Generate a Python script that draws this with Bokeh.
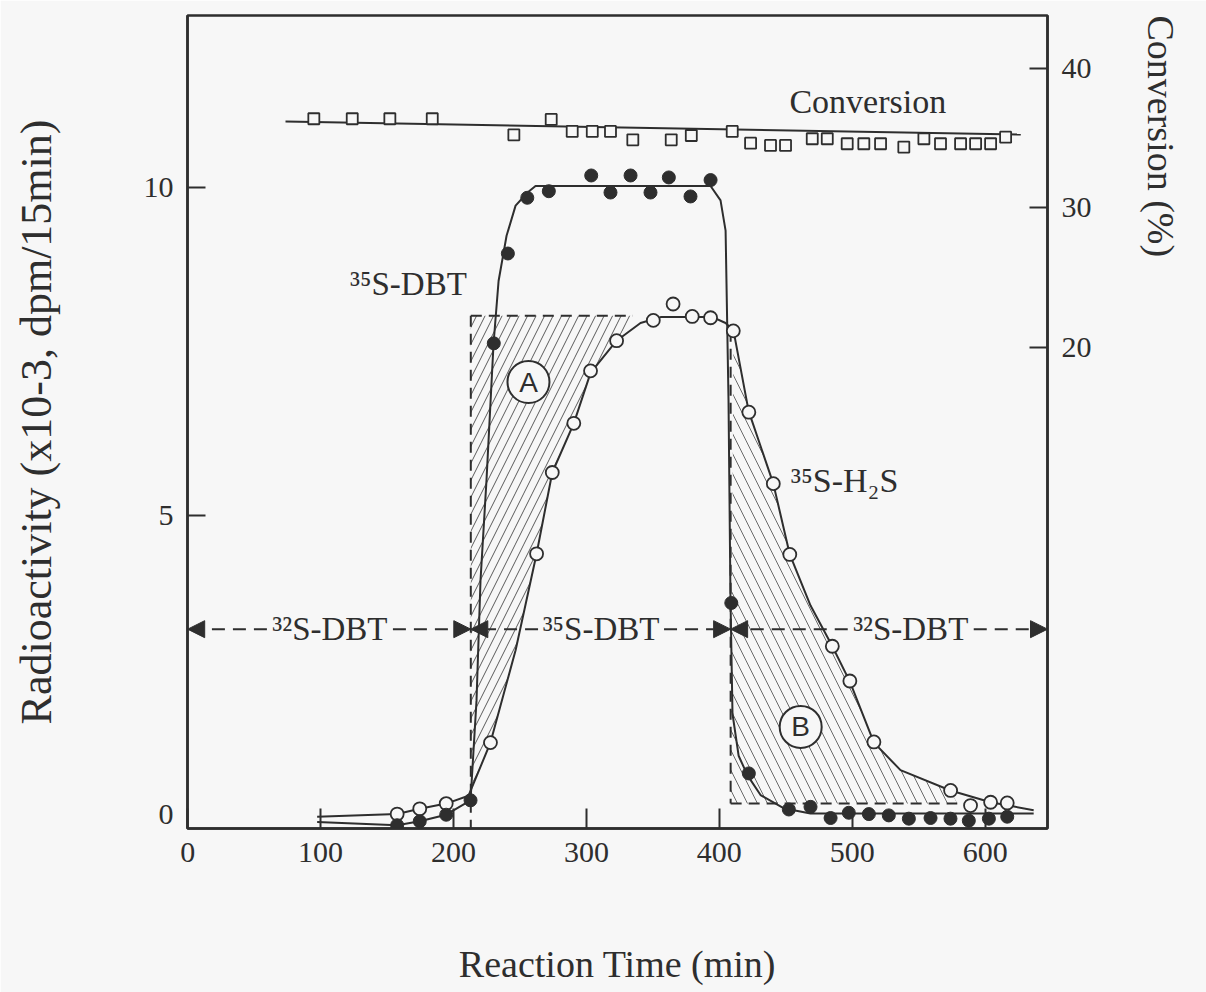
import math
from bokeh.plotting import figure
from bokeh.models import (Range1d, LinearAxis, FixedTicker, Arrow, NormalHead,
                          LabelSet, ColumnDataSource, PrintfTickFormatter)
from bokeh.core.properties import value
from bokeh.embed import file_html
from bokeh.resources import INLINE

# ---------------- data ----------------
# 35S-DBT radioactivity (filled circles)
dbt_time = [157.6, 174.6, 194.5, 212.8, 230.3, 240.9, 255.5, 271.7, 303.6, 318.1, 333.2,
            348.2, 362.0, 378.3, 393.4, 409.0, 422.2, 452.3, 468.6, 483.7, 497.4, 512.5,
            527.5, 542.6, 558.9, 573.9, 587.7, 602.8, 616.6]
dbt_act = [0.28, 0.34, 0.44, 0.66, 7.63, 9.00, 9.85, 9.95, 10.19, 9.93, 10.19,
           9.93, 10.16, 9.87, 10.12, 3.67, 1.07, 0.52, 0.56, 0.39, 0.47, 0.45,
           0.43, 0.38, 0.39, 0.38, 0.35, 0.38, 0.41]

# 35S-H2S radioactivity (open circles)
h2s_time = [157.6, 174.6, 194.5, 227.8, 262.5, 274.3, 290.5, 303.1, 322.7, 350.3, 365.2,
            379.6, 393.4, 410.5, 422.2, 440.6, 453.0, 485.0, 498.2, 516.3, 574.0, 589.0,
            604.1, 616.6]
h2s_act = [0.45, 0.53, 0.61, 1.54, 4.42, 5.66, 6.41, 7.21, 7.67, 7.98, 8.23,
           8.04, 8.02, 7.82, 6.58, 5.49, 4.41, 3.01, 2.48, 1.55, 0.81, 0.58,
           0.63, 0.62]

# Conversion (open squares, right axis)
conv_time = [94.9, 123.8, 152.1, 184.0, 245.4, 273.5, 289.3, 304.4, 318.1, 334.9, 363.8,
             378.9, 409.7, 423.5, 438.5, 449.8, 469.9, 481.2, 496.2, 508.7, 521.3, 538.8,
             553.9, 566.4, 581.5, 592.8, 604.1, 615.4]
conv_pct = [36.38, 36.38, 36.38, 36.38, 35.23, 36.33, 35.47, 35.47, 35.47, 34.87, 34.87,
            35.18, 35.47, 34.63, 34.47, 34.47, 34.95, 34.95, 34.59, 34.59, 34.59, 34.35,
            34.95, 34.59, 34.59, 34.59, 34.59, 35.06]

# hand-drawn trend curves
dbt_curve_time = [97.4, 157.6, 174.6, 194.5, 212.8, 217.3, 220.3, 224.8, 230.1, 233.9,
                  239.9, 246.7, 255.7, 261.7, 393.4, 400.9, 404.7, 406.9, 408.4, 409.9,
                  414.5, 421.2, 431.0, 448.3, 468.6, 636.5]
dbt_curve_act = [0.33, 0.28, 0.34, 0.44, 0.66, 2.18, 4.01, 5.54, 7.62, 8.58,
                 9.27, 9.73, 9.93, 10.03, 10.03, 9.81, 9.35, 6.76, 3.71, 1.98,
                 1.34, 1.04, 0.74, 0.54, 0.46, 0.46]
h2s_curve_time = [97.4, 157.6, 174.6, 194.5, 211.3, 227.8, 246.7, 262.5, 274.3, 290.5,
                  303.1, 322.7, 340.7, 355.8, 394.9, 404.7, 410.7, 422.0, 440.6, 453.0,
                  468.6, 485.0, 498.2, 516.3, 536.3, 573.9, 604.1, 636.5]
h2s_curve_act = [0.41, 0.45, 0.53, 0.61, 0.73, 1.54, 2.95, 4.42, 5.66, 6.41,
                 7.18, 7.67, 7.94, 8.03, 8.03, 7.94, 7.82, 6.60, 5.49, 4.41,
                 3.63, 3.01, 2.47, 1.54, 1.12, 0.81, 0.63, 0.51]
conv_curve_time = [73.6, 626.8]
conv_curve_pct = [36.18, 35.25]

# feed switching times and the reference levels of the shaded areas
switch_times = [213.0, 408.5]
h2s_plateau = 8.05          # top of area A
a_top_end = 335.0
b_floor = 0.61              # floor of area B
b_floor_end = 579.0

# feed phases
phase_labels = ["³²S-DBT", "³⁵S-DBT", "³²S-DBT"]
phase_label_x = [107.0, 311.0, 544.0]
phase_level = 3.27

# axes
x_ticks = [0, 100, 200, 300, 400, 500, 600]
y_ticks = [5, 10]
y_zero_label = 0.45
conv_ticks = [20, 30, 40]
x_lim = (-0.15, 646.9)
y_lim = (0.23, 12.63)
conv_lim = (-14.42, 43.77)

# ---------------- styling ----------------
ink = "#2e2e2e"
bg = "#f7f7f7"
serif = "Liberation Serif"

p = figure(width=1206, height=992, x_range=Range1d(*x_lim), y_range=Range1d(*y_lim),
           output_backend="svg", toolbar_location=None,
           min_border_left=187, min_border_right=159, min_border_top=15, min_border_bottom=164,
           background_fill_color=bg, border_fill_color=bg,
           outline_line_color=ink, outline_line_width=2.5)
p.grid.visible = False
p.extra_y_ranges = {"conv": Range1d(*conv_lim)}


def style(ax):
    ax.axis_line_color = ink
    ax.axis_line_width = 2.5
    ax.major_tick_line_color = ink
    ax.major_tick_line_width = 2
    ax.major_tick_in = 20
    ax.major_tick_out = 0
    ax.minor_tick_line_color = None
    ax.major_label_text_font = serif
    ax.major_label_text_font_size = "30px"
    ax.major_label_text_color = ink
    ax.axis_label_text_font = serif
    ax.axis_label_text_font_size = "38px"
    ax.axis_label_text_font_style = "normal"
    ax.axis_label_text_color = ink


xa = p.xaxis[0]
style(xa)
xa.ticker = FixedTicker(ticks=x_ticks)
xa.major_label_standoff = 14
xa.axis_label = "Reaction Time (min)"
xa.axis_label_standoff = 78

ya = p.yaxis[0]
style(ya)
ya.ticker = FixedTicker(ticks=[y_zero_label] + y_ticks, minor_ticks=y_ticks)
ya.formatter = PrintfTickFormatter(format="%d")
ya.major_tick_in = 0
ya.minor_tick_in = 18
ya.minor_tick_out = 0
ya.minor_tick_line_color = ink
ya.minor_tick_line_width = 2
ya.major_label_standoff = 14
ya.axis_label = "Radioactivity (x10-3, dpm/15min)"
ya.axis_label_text_font_size = "44px"
ya.axis_label_standoff = 80

ra = LinearAxis(y_range_name="conv")
style(ra)
ra.ticker = FixedTicker(ticks=conv_ticks)
ra.major_tick_in = 18
ra.major_label_standoff = 14
ra.axis_label = "Conversion (%)"
ra.axis_label_standoff = 66
_props = ra.properties()
if "axis_label_orientation" in _props:
    ra.axis_label_orientation = -math.pi / 2
if "axis_label_align" in _props:
    ra.axis_label_align = "end"
p.add_layout(ra, "right")

# ---------------- shaded areas A and B ----------------
t_in, t_out = switch_times
a_pts = [(t, v) for t, v in zip(h2s_curve_time, h2s_curve_act) if t_in - 2 < t < a_top_end]
a_x = [t_in, a_top_end] + [t for t, _ in reversed(a_pts)] + [t_in]
a_y = [h2s_plateau, h2s_plateau] + [v for _, v in reversed(a_pts)] + [a_pts[0][1]]
p.patch(a_x, a_y, fill_color=None, line_color=None,
        hatch_pattern="/", hatch_color="#5a5a5a", hatch_weight=1, hatch_scale=17)

b_pts = [(t, v) for t, v in zip(h2s_curve_time, h2s_curve_act) if t_out - 1 < t < b_floor_end]
b_x = [t_out] + [t for t, _ in b_pts] + [b_floor_end]
b_y = [b_floor] + [v for _, v in b_pts] + [b_floor]
p.patch(b_x, b_y, fill_color=None, line_color=None,
        hatch_pattern="\\", hatch_color="#6a6a6a", hatch_weight=1, hatch_scale=20)

# dashed borders of the areas
dash = "11 7"
p.line([t_in, t_in], [h2s_plateau, y_lim[0]], line_color=ink, line_width=2, line_dash=dash)
p.line([t_in, a_top_end], [h2s_plateau, h2s_plateau], line_color=ink, line_width=2, line_dash=dash)
p.line([t_out, t_out], [b_pts[0][1], b_floor], line_color=ink, line_width=2, line_dash=dash)
p.line([t_out, b_floor_end], [b_floor, b_floor], line_color=ink, line_width=2, line_dash=dash)

# ---------------- curves ----------------
p.line(dbt_curve_time, dbt_curve_act, line_color=ink, line_width=2)
p.line(h2s_curve_time, h2s_curve_act, line_color=ink, line_width=2)
p.line(conv_curve_time, conv_curve_pct, y_range_name="conv", line_color=ink, line_width=2)

# ---------------- markers ----------------
p.scatter(conv_time, conv_pct, y_range_name="conv", marker="square", size=11,
          fill_color=bg, line_color=ink, line_width=1.8)
p.scatter(h2s_time, h2s_act, marker="circle", size=13,
          fill_color=bg, line_color=ink, line_width=1.8)
p.scatter(dbt_time, dbt_act, marker="circle", size=13,
          fill_color=ink, line_color=ink, line_width=1)

# circled area letters
area_x = [256.4, 461.2]
area_y = [7.04, 1.78]
p.scatter(area_x, area_y, marker="circle", size=42, fill_color=bg, line_color=ink, line_width=2)
p.text(area_x, area_y, text=["A", "B"], text_align="center", text_baseline="middle",
       text_font=value("Liberation Sans"), text_font_size="28px", text_color=ink)

# series labels
p.text([210.0], [8.54], text=["³⁵S-DBT"], text_align="right", text_baseline="middle",
       text_font=value(serif), text_font_size="33px", text_color=ink)
p.text([453.7], [5.54], text=["³⁵S-H₂S"], text_align="left", text_baseline="middle",
       text_font=value(serif), text_font_size="34px", text_color=ink)
p.text([511.7], [37.6], y_range_name="conv", text=["Conversion"], text_align="center",
       text_baseline="middle", text_font=value(serif), text_font_size="34px", text_color=ink)

# ---------------- feed phase arrows ----------------
bounds = [x_lim[0] + 0.15, t_in, t_out, x_lim[1]]
for i, lx in enumerate(phase_label_x):
    for tip in (bounds[i], bounds[i + 1]):
        p.add_layout(Arrow(end=NormalHead(size=17, fill_color=ink, line_color=ink, line_width=1),
                           x_start=lx, y_start=phase_level, x_end=tip, y_end=phase_level,
                           line_color=ink, line_width=2, line_dash="13 8"))

phase_src = ColumnDataSource(dict(x=phase_label_x, y=[phase_level] * 3, text=phase_labels))
p.add_layout(LabelSet(x="x", y="y", text="text", source=phase_src,
                      text_align="center", text_baseline="middle",
                      text_font=serif, text_font_size="33px", text_color=ink,
                      background_fill_color=bg))

open("out.html", "w").write(file_html(p, INLINE))
